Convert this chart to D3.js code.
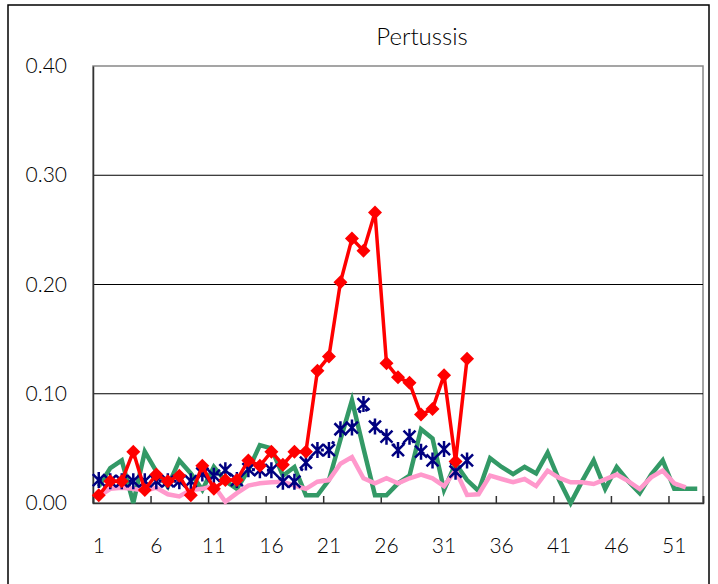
<!DOCTYPE html>
<html>
<head>
<meta charset="utf-8">
<script src="https://cdn.jsdelivr.net/npm/d3@7"></script>
<style>
  html, body { margin: 0; padding: 0; background: #fff; }
  svg text { font-family: Lato, "Liberation Sans", sans-serif; font-weight: 300; fill: #000; }
</style>
</head>
<body>
<svg id="chart" width="718" height="584"></svg>
<script>
const title = "Pertussis";
const weeks = d3.range(1, 54);
const xTickLabels = [1, 6, 11, 16, 21, 26, 31, 36, 41, 46, 51];
const xTickMarks = [0, 5, 10, 15, 20, 25, 30, 35, 40, 45, 50, 53];
const yTicks = [0, 0.1, 0.2, 0.3, 0.4];

const redSeries = [0.007, 0.020, 0.020, 0.047, 0.012, 0.026, 0.020, 0.025, 0.007, 0.034,
  0.013, 0.021, 0.021, 0.039, 0.034, 0.047, 0.035, 0.047, 0.047, 0.121,
  0.134, 0.202, 0.242, 0.231, 0.266, 0.128, 0.115, 0.110, 0.081, 0.086,
  0.117, 0.038, 0.132];
const navySeries = [0.021, 0.020, 0.020, 0.020, 0.020, 0.020, 0.020, 0.020, 0.020, 0.027,
  0.025, 0.030, 0.021, 0.031, 0.030, 0.030, 0.0195, 0.0195, 0.037, 0.0485,
  0.0485, 0.0675, 0.069, 0.0906, 0.070, 0.0607, 0.0485, 0.0607, 0.047, 0.039,
  0.0494, 0.0287, 0.039];
const greenSeries = [0.015, 0.032, 0.039, 0.000, 0.047, 0.029, 0.015, 0.039, 0.027, 0.012,
  0.033, 0.020, 0.013, 0.030, 0.053, 0.050, 0.025, 0.033, 0.007, 0.007,
  0.021, 0.058, 0.094, 0.050, 0.007, 0.007, 0.018, 0.025, 0.0675, 0.059,
  0.012, 0.036, 0.021, 0.011, 0.041, 0.033, 0.0265, 0.033, 0.027, 0.046,
  0.021, 0.000, 0.020, 0.039, 0.013, 0.033, 0.020, 0.009, 0.026, 0.039,
  0.013, 0.013, 0.013];
const pinkSeries = [0.006, 0.013, 0.014, 0.013, 0.011, 0.014, 0.008, 0.006, 0.012, 0.013,
  0.016, 0.001, 0.009, 0.016, 0.018, 0.019, 0.0195, 0.016, 0.013, 0.0195,
  0.021, 0.036, 0.042, 0.0226, 0.018, 0.0226, 0.018, 0.0226, 0.026, 0.0226,
  0.0155, 0.030, 0.0073, 0.008, 0.025, 0.022, 0.019, 0.022, 0.0155, 0.0296,
  0.023, 0.019, 0.019, 0.0174, 0.0217, 0.026, 0.020, 0.0128, 0.0235, 0.0296,
  0.018, 0.0144];

const svg = d3.select("#chart");
const L = 93, R = 703, T = 66, B = 503;

const x = d3.scaleBand().domain(weeks).range([L, R]).padding(0);
const xb = d3.scaleLinear().domain([0, 53]).range([L, R]);
const y = d3.scaleLinear().domain([0, 0.4]).range([B, T]);
const cx = w => x(w) + x.bandwidth() / 2;

// outer frame
svg.append("rect").attr("x", 8).attr("y", 5).attr("width", 701).attr("height", 600)
  .attr("fill", "none").attr("stroke", "#000").attr("stroke-width", 1.5);

// title
svg.append("text").attr("x", 422).attr("y", 45).attr("text-anchor", "middle")
  .style("font-size", "24px").text(title);

// plot border (gray)
svg.append("rect").attr("x", L).attr("y", T).attr("width", R - L).attr("height", B - T)
  .attr("fill", "none").attr("stroke", "#888").attr("stroke-width", 1.5);

// gridlines
svg.append("g").selectAll("line").data(yTicks.filter(d => d > 0 && d < 0.4)).join("line")
  .attr("x1", L).attr("x2", R).attr("y1", d => y(d)).attr("y2", d => y(d))
  .attr("stroke", "#000").attr("stroke-width", 1);

// y axis
const yAxis = svg.append("g").attr("transform", `translate(${L},0)`)
  .call(d3.axisLeft(y).tickValues(yTicks).tickFormat(d3.format(".2f")).tickSize(0).tickPadding(26));
yAxis.select(".domain").attr("stroke", "#333").attr("stroke-width", 1.5);
yAxis.selectAll("text").style("font-size", "21px").attr("fill", "#000");

// x axis boundary tick marks (inward)
const xAxisMarks = svg.append("g").attr("transform", `translate(0,${B})`)
  .call(d3.axisBottom(xb).tickValues(xTickMarks).tickSize(-7).tickFormat(""));
xAxisMarks.select(".domain").attr("stroke", "#333").attr("stroke-width", 1.5);
xAxisMarks.selectAll(".tick line").attr("stroke", "#333").attr("stroke-width", 1.5);

// x labels
const xAxis = svg.append("g").attr("transform", `translate(0,${B})`)
  .call(d3.axisBottom(x).tickValues(xTickLabels).tickSize(0).tickPadding(35));
xAxis.select(".domain").remove();
xAxis.selectAll("text").style("font-size", "21px").attr("fill", "#000");

const plot = svg.append("g");
function lineFor(vals) {
  return d3.line().x((d, i) => cx(weeks[i])).y(d => y(d))(vals);
}

plot.append("path").attr("d", lineFor(greenSeries)).attr("fill", "none")
  .attr("stroke", "#339966").attr("stroke-width", 4.5);
plot.append("path").attr("d", lineFor(pinkSeries)).attr("fill", "none")
  .attr("stroke", "#FF99CC").attr("stroke-width", 4.5);

// navy series: sparse dotted line + asterisk markers
plot.append("path").attr("d", lineFor(navySeries)).attr("fill", "none")
  .attr("stroke", "#000080").attr("stroke-width", 3).attr("stroke-dasharray", "3,12");
plot.append("g").selectAll("path").data(navySeries).join("path")
  .attr("transform", (d, i) => `translate(${cx(weeks[i])},${y(d)})`)
  .attr("d", "M-6,-6L6,6M-6,6L6,-6M0,-8L0,8")
  .attr("fill", "none").attr("stroke", "#000080").attr("stroke-width", 2.5);

// red series: line + diamonds
plot.append("path").attr("d", lineFor(redSeries)).attr("fill", "none")
  .attr("stroke", "#FF0000").attr("stroke-width", 3.5);
plot.append("g").selectAll("path").data(redSeries).join("path")
  .attr("transform", (d, i) => `translate(${cx(weeks[i])},${y(d)})`)
  .attr("d", "M0,-7L7,0L0,7L-7,0Z")
  .attr("fill", "#FF0000");
</script>
</body>
</html>
